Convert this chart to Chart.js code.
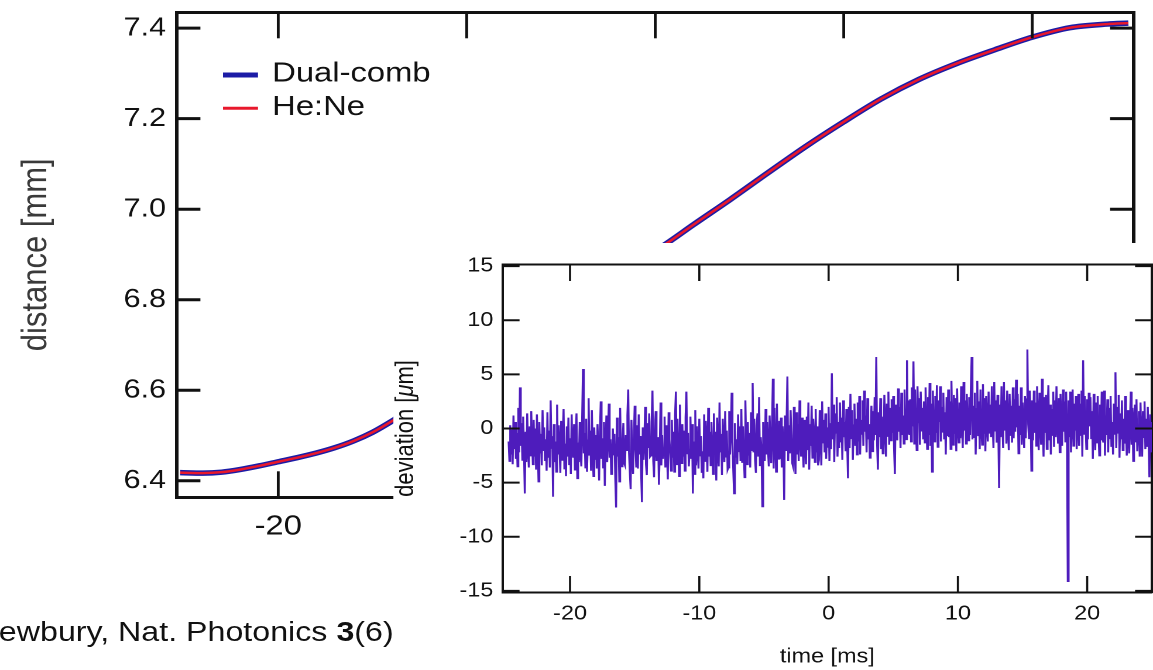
<!DOCTYPE html>
<html>
<head>
<meta charset="utf-8">
<script src="https://cdn.jsdelivr.net/npm/chart.js@4/dist/chart.umd.min.js"></script>
<style>
  html, body { margin: 0; padding: 0; background: #fff; overflow: hidden; width: 1153px; height: 670px; }
  #stage { position: absolute; left: 0; top: 0; width: 985px; height: 670px; transform-origin: 0 0; transform: scaleX(1.170558); }
  #main { position: absolute; left: 0; top: 0; }
  #cite { position: absolute; left: -1px; top: 618px; font: 27.5px "Liberation Sans", Arial, Helvetica, sans-serif; line-height: 1; color: #111; white-space: nowrap; }
  #inset { position: absolute; left: 335.73px; top: 243px; background: #fff; }
</style>
</head>
<body>
<div id="stage">
  <canvas id="main" width="985" height="670"></canvas>
  <div id="cite">ewbury, Nat. Photonics <b>3</b>(6)</div>
  <canvas id="inset" width="650" height="427"></canvas>
</div>
<script>
// ---- distance record (ms, mm) ----
const distTime = [-25.2, -24, -23, -22, -21, -20, -19, -18, -17, -16, -15, -14,
                  0.7, 2, 4, 6, 8, 10, 12, 14, 16, 18, 20, 22, 24, 25.1];
const dualComb = [6.418, 6.417, 6.419, 6.425, 6.433, 6.442, 6.451, 6.461, 6.473, 6.488, 6.507, 6.531,
                  6.927, 6.965, 7.022, 7.081, 7.139, 7.193, 7.244, 7.287, 7.322, 7.352, 7.380, 7.401, 7.409, 7.411];
const heNe     = [6.418, 6.417, 6.419, 6.425, 6.433, 6.442, 6.451, 6.461, 6.473, 6.488, 6.507, 6.531,
                  6.927, 6.965, 7.022, 7.081, 7.139, 7.193, 7.244, 7.287, 7.322, 7.352, 7.380, 7.401, 7.409, 7.411];
const distTicks = [6.4, 6.6, 6.8, 7.0, 7.2, 7.4];
const timeTicks = [-20, -10, 0, 10, 20];

// ---- deviation record (µm), one row per millisecond, sampled every 0.0625 ms from -24.75 ms ----
const devStart = -24.75;
const devStep = 0.0625;
const deviation = [
  -1.2, -3.0, 0.3, -2.4, -0.1, -3.3, 1.2, -1.9, 0.6, -2.8, -0.4, -3.5, 1.9, -2.2, 3.8, -1.6,
  0.5, -2.9, 1.1, -2.0, -6.0, -0.3, -3.1, 1.4, -1.7, -3.6, 0.2, -2.5, 1.6, -1.2, -3.3, 0.8,
  -2.6, 0.0, -3.8, 1.3, -1.5, -4.9, 0.6, -2.3, -0.5, -3.4, 1.7, -2.0, 0.1, -3.0, -1.0, -3.9,
  1.5, -2.7, -0.2, -3.6, 2.6, -1.8, -0.7, -6.3, 0.4, -3.1, -1.2, -4.0, 2.2, -2.4, 0.3, -1.9,
  -4.1, 0.7, -2.9, -0.6, 1.8, -3.7, -1.4, -4.4, 0.2, -2.6, 1.0, -3.3, -0.9, -4.2, 1.3, -2.0,
  -2.7, 0.4, -3.8, -0.8, 1.4, -4.6, -1.3, -3.1, 0.6, -2.2, -3.5, 0.9, 5.5, -2.3, -0.4, -3.6,
  0.9, -4.0, -1.1, 2.8, -2.5, -0.2, -3.9, 1.7, -2.0, -4.4, 0.1, -2.9, -0.6, -3.7, 0.4, -2.1,
  -4.8, -0.3, 2.5, -2.8, -0.9, -3.6, 0.6, -5.3, -1.6, 1.2, -3.1, -0.5, 2.3, -2.7, -1.0, -4.2,
  -3.8, 0.0, -2.4, -0.5, -4.6, -7.3, 1.0, -2.6, -0.8, -4.9, 1.9, -2.0, -3.5, -1.3, 0.5, -3.2,
  -3.4, -0.6, -2.0, 1.2, 3.6, -2.2, -4.0, -5.6, 0.8, -2.7, -4.2, -0.9, 2.1, -1.7, -3.6, 0.3,
  -3.7, 1.3, -2.4, -0.7, -4.1, -6.8, 0.1, -2.9, -1.0, 2.0, -3.3, -4.3, 0.5, -1.8, 1.4, -2.6,
  -2.5, 0.6, 3.5, -3.0, -4.5, -0.2, 1.6, -3.0, -1.4, -0.8, -5.2, -2.1, 2.4, -3.4, -0.6, -2.8,
  -1.9, 1.1, -3.6, 0.3, -2.2, -4.7, 1.5, -1.0, -2.4, -3.9, 0.8, -2.7, -0.3, -4.0, 1.2, 3.4,
  -3.3, 0.9, -1.7, -4.4, 2.2, -1.5, -3.2, 0.4, -2.6, -0.2, -3.9, 1.0, 3.4, -2.3, -0.4, -3.5,
  -2.0, 1.1, -2.8, 0.4, -6.0, -1.2, -4.2, 1.7, -3.4, 0.2, -1.9, -3.7, 0.9, -2.5, -0.7, -4.1,
  -2.1, -4.6, 1.3, -3.0, 0.7, -1.5, -4.0, 1.9, -2.6, -0.3, -3.4, 0.6, -1.8, -4.2, 1.4, -2.3,
  -0.3, -4.8, 1.0, -2.1, -3.5, 2.4, -2.2, -0.5, -4.3, 0.9, -1.7, -3.1, 1.6, -2.6, -0.2, -3.8,
  -3.6, 1.6, -2.4, -0.4, 3.3, -1.2, -3.8, -6.0, 0.5, -2.7, -1.0, -3.3, 1.3, -2.1, 0.2, -3.0,
  1.8, -3.1, 0.2, -2.2, -4.5, 2.6, -1.7, -3.3, 0.6, -2.5, -0.4, -3.6, 1.5, -2.0, 4.2, -2.2,
  0.9, -2.9, -4.1, 0.3, 1.4, -2.6, 2.9, -3.4, -0.8, -2.1, -7.2, 0.6, -1.6, -3.0, 1.8, -2.4,
  0.6, -2.0, -3.5, 1.2, -1.4, -3.2, 0.4, 4.6, -3.7, 1.9, -0.9, -4.0, 2.3, -1.5, -2.8, 0.7,
  -2.8, 1.0, -3.6, 0.2, -1.5, -6.6, 1.2, -2.0, 0.6, 4.8, -3.0, 0.3, -2.3, 1.7, -1.0, -3.2,
  -3.5, 2.0, -1.2, -4.2, 1.5, -2.4, 0.4, -3.0, 2.6, -0.7, -2.6, 1.0, -1.9, -3.6, 0.8, -1.4,
  -3.3, 1.1, -2.0, 2.4, -3.8, 0.4, -1.6, 2.1, -2.7, 0.9, -0.4, -3.1, 1.8, -2.2, 0.2, -3.4,
  -2.9, 1.7, -0.6, -3.4, 2.5, -1.3, 0.8, -2.2, 1.4, -2.8, 0.1, -1.7, 2.0, -3.0, 0.5, -1.9,
  5.1, -1.0, 2.2, -3.1, 1.4, -0.4, 2.9, -2.6, 0.6, -1.8, 2.4, -1.2, 1.0, -2.9, 2.6, -0.8,
  0.6, -2.1, 1.8, -1.4, -4.6, 2.0, -1.8, 3.2, -0.9, 1.7, -2.9, 0.3, 2.3, -1.6, 0.9, -2.4,
  2.4, -1.2, 3.0, -2.4, 0.8, -0.5, 2.6, -1.6, 3.5, -0.3, 1.2, -2.2, 2.8, -1.0, 0.4, -2.7,
  -0.5, 2.1, -2.1, 1.6, -1.1, 2.9, -0.6, 6.6, -1.4, -3.8, 1.5, -0.8, 2.8, -1.9, 1.1, -2.3,
  -1.9, 3.1, 0.2, -2.6, 2.3, -0.7, 3.4, -1.5, 1.9, -1.1, 2.7, -0.4, 3.0, -1.8, -4.2, 2.2,
  1.6, -1.1, 3.7, -0.3, 2.0, -1.8, 3.3, -0.6, 1.2, -1.4, 3.6, 0.1, -1.0, 6.3, -0.5, 2.6,
  -0.6, 2.7, -1.2, 3.8, 0.2, 6.2, -1.4, 3.6, 0.3, -2.0, 3.9, 0.5, 2.8, -1.5, 3.4, -0.2,
  1.9, -1.0, 2.5, -1.3, 3.8, 0.4, -1.9, 2.9, -0.6, 4.2, -1.6, 2.3, -4.0, 3.5, 0.1, -1.2,
  3.0, -0.4, 4.0, -1.7, 2.6, 0.6, 3.9, -1.2, 2.0, -0.3, 3.3, -1.0, 1.5, -2.4, 2.9, -0.7,
  3.6, -0.8, 2.5, -1.9, 4.4, 0.2, -1.5, 3.1, -0.5, 2.8, -2.1, 3.7, 0.1, -1.3, 2.4, -0.9,
  3.9, 0.5, -1.8, 4.3, -0.2, 2.6, -1.4, 3.2, 0.7, -1.1, 2.9, -0.6, 3.6, 6.6, -1.0, 2.1,
  -0.8, 3.3, -2.4, 1.8, 4.4, -0.7, 2.5, -1.9, 3.6, 0.2, -1.5, 4.1, -0.5, 2.8, -2.1, 3.0,
  0.6, -1.2, 3.4, -0.4, 2.2, -0.8, 3.9, 0.5, -1.8, 4.3, -0.2, 2.6, -1.3, 3.1, 0.0, -5.5,
  2.2, -0.8, 3.9, 0.5, -1.8, 4.3, -0.2, 2.6, -1.4, 3.5, 0.1, -2.0, 3.2, -0.6, 2.1, -1.3,
  3.8, -0.9, 2.7, -0.3, 4.5, 0.1, 3.2, -2.3, 2.1, -0.6, 3.8, -1.5, 2.4, 0.3, -1.8, 3.0,
  -0.9, 2.7, 7.3, 0.4, -0.9, 3.5, 1.3, -3.9, 2.6, -1.1, 3.5, -0.4, 2.4, -1.6, 3.9, 0.2,
  -2.0, 3.3, 0.7, -1.5, 4.6, 0.2, -2.6, 2.9, -0.4, 3.1, -1.9, 1.5, 4.0, -1.1, 2.2, -2.4,
  1.8, -0.6, 3.4, -1.7, 2.6, -0.8, 3.9, 0.4, -1.4, 2.8, -2.2, 3.2, 0.0, -1.6, 3.6, -0.3,
  2.5, -1.2, 3.4, -0.5, -14.1, 2.6, -0.8, 3.4, -2.2, 1.0, 3.6, -1.6, 2.3, -0.2, 3.0, -1.9,
  0.4, 3.2, -1.6, 2.3, -0.6, 3.5, -2.6, 6.3, -0.5, 3.0, 0.4, -1.9, 2.7, -1.0, 3.3, 0.2,
  2.9, -0.9, 1.6, -2.8, 3.2, 0.0, -2.0, 2.4, -1.3, 3.0, -0.4, -2.5, 2.2, -1.1, 3.4, -0.8,
  -1.3, 3.5, -2.5, 1.2, -0.6, 2.7, -2.2, 1.9, -0.9, 3.0, -1.7, 0.6, -2.4, 2.3, -0.5, 5.2,
  -1.8, 2.0, -0.4, 3.1, -2.7, 1.4, -1.0, 2.6, -2.0, 0.9, -1.4, 3.0, -0.3, -2.5, 1.7, -0.8,
  -2.3, 0.8, 3.4, -1.5, 1.9, -3.0, 0.5, 2.2, -1.2, 2.7, -2.1, 0.3, 1.6, -2.6, 2.4, -0.9,
  -2.6, 1.6, -0.8, 2.5, -1.9, 0.9, -1.7, 2.0, -1.0, -4.5, 1.3, -2.2, 0.6, 2.1, -1.4, -3.0
];
const devTicks = [-15, -10, -5, 0, 5, 10, 15];

const FONT = '"Liberation Sans", Arial, Helvetica, sans-serif';
Chart.defaults.font.family = FONT;
Chart.defaults.color = '#111';

// tick marks pointing into the plot from every frame side
const innerTicks = {
  id: 'innerTicks',
  afterDatasetsDraw(chart, args, o) {
    const { ctx, chartArea: a } = chart;
    ctx.save();
    ctx.strokeStyle = o.color;
    ctx.lineCap = 'butt';
    Object.values(chart.scales).forEach(s => {
      const horiz = s.isHorizontal();
      ctx.lineWidth = horiz ? o.widthV : o.widthH;
      s.ticks.forEach(t => {
        const p = s.getPixelForValue(t.value);
        ctx.beginPath();
        if (s.position === 'bottom') { ctx.moveTo(p, a.bottom); ctx.lineTo(p, a.bottom - o.lenV); }
        else if (s.position === 'top') { ctx.moveTo(p, a.top); ctx.lineTo(p, a.top + o.lenV); }
        else if (s.position === 'left') { ctx.moveTo(a.left, p); ctx.lineTo(a.left + o.lenH, p); }
        else { ctx.moveTo(a.right, p); ctx.lineTo(a.right - o.lenH, p); }
        ctx.stroke();
      });
    });
    ctx.restore();
  }
};

// legend drawn inside the plot area
const legendInside = {
  id: 'legendInside',
  afterDraw(chart, args, o) {
    const ctx = chart.ctx;
    ctx.save();
    ctx.font = o.size + 'px ' + FONT;
    ctx.textBaseline = 'middle';
    ctx.textAlign = 'left';
    chart.data.datasets.forEach((d, i) => {
      const y = o.y + i * o.gap;
      ctx.strokeStyle = d.borderColor;
      ctx.lineWidth = o.widths[i];
      ctx.beginPath();
      ctx.moveTo(o.x1, y);
      ctx.lineTo(o.x2, y);
      ctx.stroke();
      ctx.fillStyle = '#111';
      ctx.fillText(d.label, o.textX, y - 1);
    });
    ctx.restore();
  }
};

// rotated y-axis title with mixed upright / italic pieces
const richYTitle = {
  id: 'richYTitle',
  afterDraw(chart, args, o) {
    const s = chart.scales.y;
    const ctx = chart.ctx;
    const fontFor = p => (p.italic ? 'italic ' : '') + o.size + 'px ' + FONT;
    ctx.save();
    ctx.translate(s.left + o.offset, (s.top + s.bottom) / 2);
    ctx.rotate(-Math.PI / 2);
    ctx.textBaseline = 'middle';
    ctx.textAlign = 'left';
    ctx.fillStyle = o.color;
    const widths = o.parts.map(p => { ctx.font = fontFor(p); return ctx.measureText(p.text).width; });
    let x = -widths.reduce((a, b) => a + b, 0) / 2;
    o.parts.forEach((p, i) => { ctx.font = fontFor(p); ctx.fillText(p.text, x, 0); x += widths[i]; });
    ctx.restore();
  }
};

function sized(size) {
  return s => {
    if (s.isHorizontal()) s.height = size; else s.width = size;
    s.paddingTop = s.paddingBottom = s.paddingLeft = s.paddingRight = 0;
  };
}
function fixedTicks(vals) {
  return s => { s.ticks = vals.map(v => ({ value: v })); };
}
function frameAxis(axis, position, min, max, vals, size, bw) {
  return {
    type: 'linear', axis, position, min, max,
    grid: { display: false, drawTicks: false },
    border: { display: true, color: '#111', width: bw },
    ticks: { display: false },
    afterBuildTicks: fixedTicks(vals),
    afterFit: sized(size)
  };
}

// ---- main plot: distance vs time ----
new Chart(document.getElementById('main'), {
  type: 'line',
  data: {
    datasets: [
      { label: 'Dual-comb', data: distTime.map((t, i) => ({ x: t, y: dualComb[i] })),
        borderColor: '#1c1ca6', borderWidth: 5.5, pointRadius: 0, order: 2, cubicInterpolationMode: 'monotone' },
      { label: 'He:Ne', data: distTime.map((t, i) => ({ x: t, y: heNe[i] })),
        borderColor: '#e8182c', borderWidth: 2.5, pointRadius: 0, order: 1, cubicInterpolationMode: 'monotone' }
    ]
  },
  options: {
    responsive: false, animation: false, devicePixelRatio: 2,
    layout: { padding: 0 },
    plugins: {
      legend: { display: false }, tooltip: { enabled: false },
      innerTicks: { color: '#111', lenH: 20, lenV: 26, widthH: 3, widthV: 2.4 },
      legendInside: { x1: 190.5, x2: 220.4, textX: 232.5, y: 75, gap: 33.3, size: 28, widths: [5, 3] }
    },
    scales: {
      x: {
        type: 'linear', position: 'bottom', min: -25.37, max: 25.37,
        grid: { display: false, drawTicks: false },
        border: { display: true, color: '#111', width: 3 },
        ticks: { font: { size: 28 }, color: '#111', padding: 12.5, maxRotation: 0, autoSkip: false, callback: v => String(v) },
        afterBuildTicks: fixedTicks(timeTicks),
        afterFit: sized(172.7)
      },
      y: {
        type: 'linear', position: 'left', min: 6.3635, max: 7.435,
        grid: { display: false, drawTicks: false },
        border: { display: true, color: '#111', width: 3 },
        ticks: { font: { size: 26 }, color: '#111', padding: 9.4, autoSkip: false, callback: v => v.toFixed(1) },
        title: { display: true, text: 'distance [mm]', color: '#3a3a3a', font: { size: 31, lineHeight: 1 }, padding: { top: 15.3, bottom: 0 } },
        afterBuildTicks: fixedTicks(distTicks),
        afterFit: sized(151.2)
      },
      x2: frameAxis('x', 'top', -25.37, 25.37, timeTicks, 12.3, 3),
      y2: frameAxis('y', 'right', 6.3635, 7.435, distTicks, 16.7, 3)
    }
  },
  plugins: [innerTicks, legendInside]
});

// ---- inset: deviation vs time ----
new Chart(document.getElementById('inset'), {
  type: 'line',
  data: {
    datasets: [
      { label: 'deviation', data: deviation.map((v, i) => ({ x: devStart + i * devStep, y: v })),
        borderColor: '#4e1cbc', borderWidth: 1.7, pointRadius: 0, tension: 0 }
    ]
  },
  options: {
    responsive: false, animation: false, devicePixelRatio: 2,
    layout: { padding: 0 },
    plugins: {
      legend: { display: false }, tooltip: { enabled: false },
      innerTicks: { color: '#111', lenH: 14.3, lenV: 16.5, widthH: 2, widthV: 1.8 },
      richYTitle: { size: 22, offset: 11, color: '#111',
        parts: [{ text: 'deviation [' }, { text: 'μ', italic: true }, { text: 'm]' }] }
    },
    scales: {
      x: {
        type: 'linear', position: 'bottom', min: -25.2, max: 25.0,
        grid: { display: false, drawTicks: false },
        border: { display: true, color: '#111', width: 2 },
        ticks: { font: { size: 20 }, color: '#111', padding: 9.5, maxRotation: 0, autoSkip: false, callback: v => String(v) },
        title: { display: true, text: 'time [ms]', color: '#111', font: { size: 20, lineHeight: 1 }, padding: { top: 0, bottom: 3 } },
        afterBuildTicks: fixedTicks(timeTicks),
        afterFit: sized(77.5)
      },
      y: {
        type: 'linear', position: 'left', min: -15.15, max: 15.15,
        grid: { display: false, drawTicks: false },
        border: { display: true, color: '#111', width: 2 },
        ticks: { font: { size: 20 }, color: '#111', padding: 8.1, autoSkip: false, callback: v => String(v) },
        afterBuildTicks: fixedTicks(devTicks),
        afterFit: sized(93.55)
      },
      x2: frameAxis('x', 'top', -25.2, 25.0, timeTicks, 21.5, 2),
      y2: frameAxis('y', 'right', -15.15, 15.15, devTicks, 2.0, 2)
    }
  },
  plugins: [innerTicks, richYTitle]
});
</script>
</body>
</html>
